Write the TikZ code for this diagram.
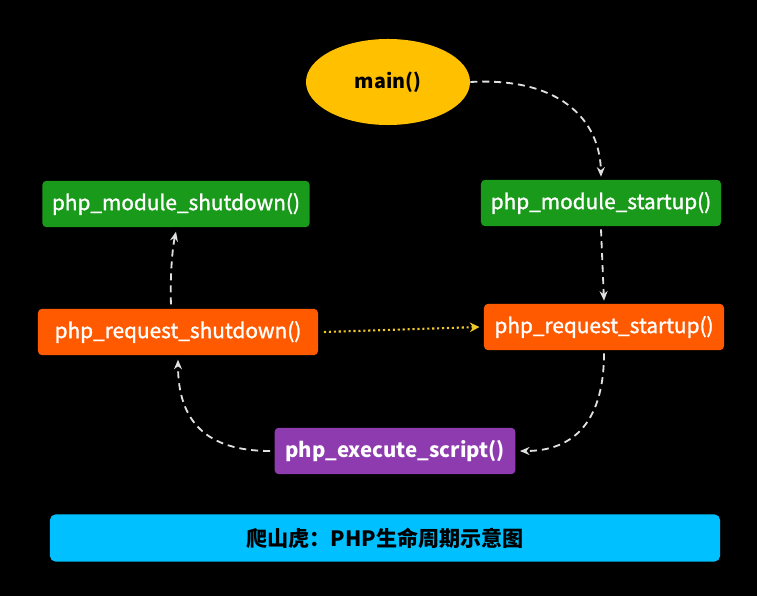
\documentclass[tikz,border=0pt]{standalone}
\usepackage{fontspec}
\setmainfont{Noto Sans CJK SC}
\newfontfamily\medfont[FakeBold=1.3]{Noto Sans CJK SC}
\usepackage{tikz}
\usetikzlibrary{arrows.meta,positioning,shapes.geometric}
\definecolor{phpGold}{RGB}{255,192,0}
\definecolor{phpGreen}{RGB}{26,154,26}
\definecolor{phpOrange}{RGB}{255,90,0}
\definecolor{phpPurple}{RGB}{142,59,176}
\definecolor{phpCyan}{RGB}{0,192,255}
\definecolor{phpYellow}{RGB}{240,200,40}
\tikzset{
  box/.style={rounded corners=3pt, align=center, text=white, inner sep=0pt,
              minimum height=1.16cm, font=\fontsize{14.8}{17}\medfont},
  greenbox/.style={box, fill=phpGreen},
  orangebox/.style={box, fill=phpOrange},
  purplebox/.style={box, fill=phpPurple},
  flow/.style={-{Stealth[length=2.4mm,width=2mm]}, draw=white!88!black, line width=1.3pt, dash pattern=on 5pt off 3.5pt},
  dotflow/.style={-{Stealth[length=2.4mm,width=2.4mm]}, draw=phpYellow, line width=1.5pt, dash pattern=on 1.5pt off 2pt}
}

\begin{document}
\begin{tikzpicture}[x=0.025cm, y=-0.025cm]
\fill[black] (0,0) rectangle (757,596);
\useasboundingbox (0,0) rectangle (757,596);
\node[ellipse, fill=phpGold, minimum width=4.1cm, minimum height=2.15cm, inner sep=0pt,
      font=\fontsize{14}{16}\selectfont\bfseries] (main) at (388,82) {main()};
\node[greenbox, minimum width=6cm] (mstart) at (601,203) {php\_module\_startup()};
\node[greenbox, minimum width=6.68cm] (mshut) at (176,204) {php\_module\_shutdown()};
\node[orangebox, minimum width=6cm] (rstart) at (604,327) {php\_request\_startup()};
\node[orangebox, minimum width=7cm] (rshut) at (178,332) {php\_request\_shutdown()};
\node[purplebox, minimum width=6.02cm, font=\fontsize{14.5}{17}\selectfont\bfseries] (exec) at (395,451) {php\_execute\_script()};
\node[rounded corners=4pt, fill=phpCyan, minimum width=16.75cm, minimum height=1.18cm,
      font=\fontsize{15}{18}\selectfont\bfseries] (caption) at (385,538) {爬山虎：PHP生命周期示意图};
% lifecycle
\draw[flow] (main.east) .. controls (560,77) and (600,120) .. ([yshift=2pt]mstart.north);
\draw[flow] ([yshift=-2pt]mstart.south) -- ([yshift=2pt]rstart.north);
\draw[flow] ([yshift=-2pt]rstart.south) .. controls (604,420) and (575,451) .. ([xshift=3pt]exec.east);
\draw[flow] ([xshift=-3pt]exec.west) .. controls (205,451) and (178,420) .. ([yshift=-3pt]rshut.south);
\draw[flow] ([xshift=-5pt,yshift=3pt]rshut.north) .. controls (170,280) and (172,250) .. ([yshift=-3pt]mshut.south);
\draw[dotflow] ([xshift=4pt]rshut.east) -- ([xshift=-3pt]rstart.west);
\end{tikzpicture}
\end{document}
